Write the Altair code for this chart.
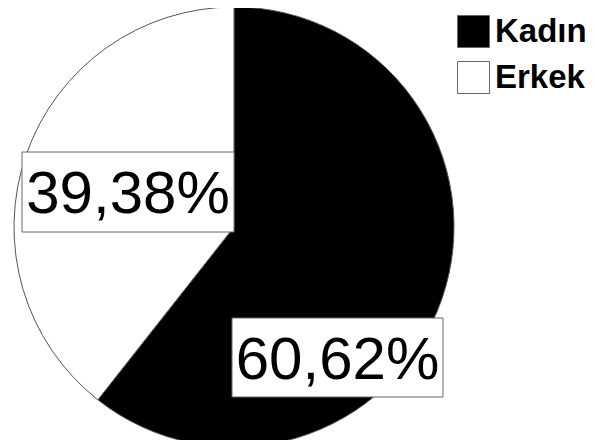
import altair as alt
import pandas as pd

categories = ["Kadın", "Erkek"]
values = [60.62, 39.38]
colors = ["#000000", "#ffffff"]

df = pd.DataFrame({
    "cat": categories,
    "val": values,
    "order": [0, 1],
})
df["txt"] = df["val"].map(lambda v: f"{v:.2f}".replace(".", ",") + "%")

CX, CY, R = 226, 219, 220
FONT = "Liberation Sans"

base = alt.Chart(df)

pie = base.mark_arc(outerRadius=R, stroke="#555555", strokeWidth=1).encode(
    theta=alt.Theta("val:Q", stack=True),
    order=alt.Order("order:Q"),
    color=alt.Color(
        "cat:N",
        scale=alt.Scale(domain=categories, range=colors),
        sort=categories,
        legend=alt.Legend(
            title=None,
            orient="none",
            legendX=449,
            legendY=7,
            symbolType="square",
            symbolSize=1024,
            symbolStrokeColor="#666666",
            symbolStrokeWidth=1,
            labelFont=FONT,
            labelFontWeight="bold",
            labelFontSize=33,
            labelColor="#000000",
            labelOffset=5,
            rowPadding=9,
            padding=0,
        ),
    ),
    x=alt.value(CX),
    y=alt.value(CY),
)

def label_layer(cat, x1, x2, y1, y2):
    sub = base.transform_filter(alt.datum.cat == cat)
    box = sub.mark_rect(fill="white", stroke="#666666", strokeWidth=1).encode(
        x=alt.value(x1), x2=alt.value(x2), y=alt.value(y1), y2=alt.value(y2)
    )
    txt = sub.mark_text(
        font=FONT, fontSize=60, color="black", align="center", baseline="middle"
    ).encode(
        text="txt:N",
        x=alt.value((x1 + x2) / 2),
        y=alt.value((y1 + y2) / 2 + 3),
    )
    return box + txt

chart = alt.layer(
    pie,
    label_layer("Erkek", 14, 226, 144, 224),
    label_layer("Kadın", 224, 435, 310, 389),
).properties(
    width=579, height=432, padding=0, autosize=alt.AutoSizeParams(type="none")
).configure_view(stroke=None)

chart.save("out.html", embed_options={"renderer": "svg", "actions": False})
